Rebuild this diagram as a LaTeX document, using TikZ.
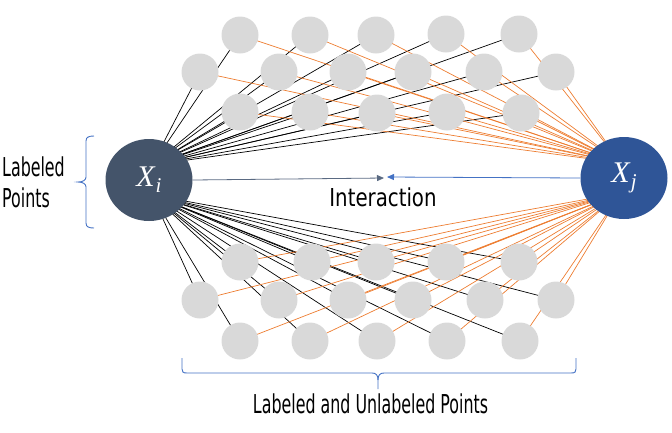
\documentclass[tikz,border=0pt]{standalone}
\usepackage{fontspec}
\usetikzlibrary{shapes.geometric,arrows.meta}
\newfontfamily\agencyL[FakeStretch=0.61]{DejaVu Sans}
\newfontfamily\agencyI[FakeStretch=0.8]{DejaVu Sans}
\newfontfamily\varfont{Liberation Serif}
\definecolor{dotgray}{HTML}{D9D9D9}
\definecolor{slate}{HTML}{44546A}
\definecolor{darkblue}{HTML}{2F5597}
\definecolor{midblue}{HTML}{4472C4}
\definecolor{orng}{HTML}{ED7D31}
\definecolor{arrgray}{HTML}{5A6A82}
\newcommand{\varname}[2]{{\varfont\itshape\fontsize{30}{32}\selectfont #1\kern1pt\raisebox{-6pt}{\fontsize{21}{22}\selectfont #2}}}
\pgfdeclarelayer{bg}\pgfsetlayers{bg,main}
\begin{document}
\begin{tikzpicture}[x=1pt,y=-1pt,
  dot/.style={circle,fill=dotgray,minimum size=37pt,inner sep=0pt},
  bignode/.style={ellipse,minimum width=87pt,minimum height=82pt,inner sep=0pt,text=white},
  blackline/.style={black,line width=0.7pt},
  orangeline/.style={orng,line width=0.7pt},
  bracestyle/.style={midblue,line width=0.9pt},
  lbl/.style={inner sep=0pt,font=\agencyL\fontsize{26}{31}\selectfont}]
\useasboundingbox (0,0) rectangle (672,432);
% nodes
\node[bignode,fill=slate] (Xi) at (149,180) {\varname{X}{i}};
\node[bignode,fill=darkblue] (Xj) at (624,178) {\varname{X}{j}};
\coordinate (xiT) at (152,165);
\coordinate (xiB) at (152,195);
\coordinate (xjT) at (621,163);
\coordinate (xjB) at (621,193);
\foreach \i/\p in {1/{240,35},2/{310,35},3/{376,35},4/{446,34},5/{519,34},
  6/{200,72},7/{279,72},8/{348,72},9/{413,72},10/{484,72},11/{556,72},
  12/{240,112},13/{310,112},14/{377,113},15/{447,112},16/{521,113}}
  \node[dot] (t\i) at (\p) {};
\foreach \i/\p in {1/{240,262},2/{312,262},3/{376,262},4/{446,262},5/{519,262},
  6/{200,300},7/{279,300},8/{348,300},9/{413,300},10/{485,300},11/{556,300},
  12/{240,341},13/{310,341},14/{377,341},15/{447,341},16/{520,341}}
  \node[dot] (b\i) at (\p) {};
\begin{pgfonlayer}{bg}
\foreach \i in {1,...,16} {
  \draw[blackline] (xiT) -- (t\i.center);
  \draw[blackline] (xiB) -- (b\i.center);
}
\foreach \i in {1,...,16} {
  \draw[orangeline] (xjT) -- (t\i.center);
  \draw[orangeline] (xjB) -- (b\i.center);
}
\end{pgfonlayer}
% interaction arrows
\coordinate (m1) at (384,178);
\coordinate (m2) at (387,177);
\draw[arrgray,line width=0.8pt,-{Triangle[length=7pt,width=6pt]}] (Xi.east) -- (m1);
\draw[midblue,line width=0.8pt,-{Triangle[length=7pt,width=6pt]}] (Xj.west) -- (m2);
\node[anchor=base,inner sep=0pt,font=\agencyI\fontsize{24.7}{28}\selectfont] (inter) at (383,206) {Interaction};
% left brace
\draw[bracestyle] (94,136) .. controls (89,136) and (86,137) .. (86,141) -- (86,177)
  .. controls (86,180) and (83,182) .. (78,182) .. controls (83,182) and (86,184) .. (86,187)
  -- (86,223) .. controls (86,227) and (89,228) .. (94,228);
\node[lbl,align=left,anchor=base west] (lp) at (2,207) {Labeled\\Points};
% bottom brace
\draw[bracestyle] (182,358) -- (182,369) .. controls (182,372) and (183,373) .. (187,373)
  -- (372,373) .. controls (376,373) and (378,375) .. (378,380) -- (378,389);
\draw[bracestyle] (378,380) .. controls (378,375) and (380,373) .. (384,373)
  -- (571,373) .. controls (575,373) and (576,372) .. (576,369) -- (576,358);
\node[lbl,anchor=base] (lup) at (370.5,413) {Labeled and Unlabeled Points};
\end{tikzpicture}
\end{document}
